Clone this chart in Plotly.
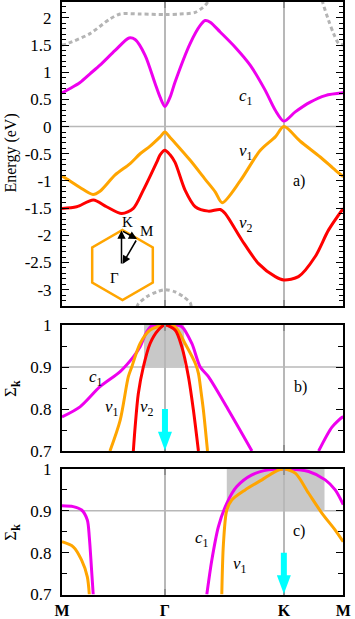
import numpy as np
import plotly.graph_objects as go

W, H = 355, 619
FONT = "'Liberation Serif', 'DejaVu Serif', serif"

# ---- high-symmetry path (M - Gamma - K - M) ----
GAMMA = 1 / np.sqrt(3)
KPT = GAMMA + 2 / 3
MEND = KPT + 1 / 3
tick_vals = [0, GAMMA, KPT, MEND]
tick_text = ["<b>M</b>", "<b>Γ</b>", "<b>K</b>", "<b>M</b>"]

# ---- panel a: band energies (eV) ----
c1_a_k = [0, 0.045, 0.101, 0.157, 0.213, 0.298, 0.376, 0.410, 0.466, 0.522, 0.550, 0.577, 0.606, 0.634,
          0.719, 0.775, 0.803, 0.831, 0.887, 0.971, 1.055, 1.139, 1.196, 1.244, 1.308, 1.392, 1.476, 1.577]
c1_a_E = [0.62, 0.70, 0.81, 0.97, 1.13, 1.40, 1.63, 1.60, 1.31, 0.79, 0.54, 0.37, 0.54, 0.82,
          1.53, 1.86, 1.95, 1.92, 1.74, 1.46, 1.13, 0.67, 0.30, 0.10, 0.27, 0.45, 0.57, 0.62]

v1_a_k = [0, 0.045, 0.101, 0.174, 0.213, 0.298, 0.382, 0.438, 0.494, 0.550, 0.577, 0.606, 0.634,
          0.719, 0.803, 0.859, 0.898, 0.999, 1.111, 1.196, 1.244, 1.336, 1.448, 1.532, 1.577]
v1_a_E = [-0.91, -1.00, -1.12, -1.25, -1.19, -0.89, -0.68, -0.50, -0.36, -0.19, -0.10, -0.20, -0.30,
          -0.62, -0.97, -1.20, -1.40, -1.00, -0.44, -0.19, 0.00, -0.27, -0.56, -0.80, -0.92]

v2_a_k = [0, 0.082, 0.176, 0.250, 0.335, 0.400, 0.456, 0.532, 0.550, 0.577, 0.606, 0.634, 0.690,
          0.747, 0.821, 0.887, 0.915, 1.009, 1.102, 1.196, 1.244, 1.326, 1.420, 1.495, 1.577]
v2_a_E = [-1.505, -1.475, -1.35, -1.475, -1.60, -1.505, -1.17, -0.65, -0.52, -0.435, -0.52, -0.66, -1.17,
          -1.475, -1.555, -1.525, -1.60, -2.09, -2.52, -2.76, -2.82, -2.76, -2.39, -1.90, -1.505]

up_k = [0, 0.026, 0.157, 0.269, 0.326, 0.438, 0.577, 0.662, 0.747, 0.803, 0.821, 0.830, None,
        1.452, 1.459, 1.495, 1.523, 1.551, 1.577]
up_E = [1.50, 1.52, 1.71, 1.98, 2.07, 2.07, 2.06, 2.07, 2.10, 2.23, 2.32, 2.45, None,
        2.45, 2.32, 1.95, 1.71, 1.53, 1.50]

low_k = [0.420, 0.428, 0.475, 0.532, 0.577, 0.634, 0.681, 0.719, 0.725]
low_E = [-3.32, -3.26, -3.13, -3.04, -3.00, -3.04, -3.13, -3.24, -3.32]

# ---- panel b: Sigma_k ----
c1_b_k = [0, 0.101, 0.213, 0.326, 0.400, 0.438, 0.475, 0.503, 0.577, 0.634, 0.672, 0.728, 0.775, 0.821,
          0.934, 1.065, None, 1.439, 1.514, 1.570, 1.577]
c1_b_S = [0.781, 0.805, 0.853, 0.889, 0.924, 0.948, 0.984, 0.998, 1.0, 1.0, 0.996, 0.956, 0.90, 0.877,
          0.797, 0.70, None, 0.70, 0.757, 0.780, 0.781]
v1_b_k = [0.269, 0.326, 0.372, 0.391, 0.438, 0.494, 0.577, 0.634, 0.690, 0.747, 0.765, 0.780, 0.793, 0.816]
v1_b_S = [0.70, 0.773, 0.877, 0.90, 0.956, 0.988, 1.0, 0.996, 0.956, 0.909, 0.885, 0.84, 0.797, 0.70]
v2_b_k = [0.400, 0.410, 0.428, 0.456, 0.494, 0.540, 0.577, 0.634, 0.672, 0.709, 0.737, 0.765]
v2_b_S = [0.70, 0.757, 0.837, 0.90, 0.956, 0.988, 1.0, 0.988, 0.948, 0.877, 0.797, 0.70]

# ---- panel c: Sigma_k ----
c1_c_k = [0, 0.063, 0.110, 0.142, 0.153, 0.166, 0.175, None,
          0.812, 0.840, 0.877, 0.924, 0.980, 1.065, 1.158, 1.244, 1.383, 1.476, 1.532, 1.577]
c1_c_S = [0.912, 0.91, 0.902, 0.878, 0.838, 0.758, 0.70, None,
          0.70, 0.782, 0.862, 0.918, 0.958, 0.986, 0.998, 1.0, 0.994, 0.974, 0.95, 0.915]
v1_c_k = [0, 0.063, 0.110, 0.142, 0.153, None,
          0.896, 0.905, 0.924, 0.952, 1.027, 1.121, 1.196, 1.244, 1.308, 1.383, 1.458, 1.532, 1.577]
v1_c_S = [0.826, 0.814, 0.782, 0.742, 0.70, None,
          0.70, 0.82, 0.902, 0.926, 0.95, 0.974, 0.994, 1.0, 0.99, 0.942, 0.894, 0.854, 0.826]

shade_b = [0.460, 0.685]
shade_c = [0.924, 1.472]
arrow_top, arrow_neck = 0.80, 0.746

MAG, ORA, RED, GRAYD, CYAN = "#ee00ee", "#ffa500", "#ff0000", "#b4b4b4", "#00ffff"
GRID = "#b8b8b8"

fig = go.Figure()


def add(k, v, color, xa, ya, dash=None, width=3):
    fig.add_trace(go.Scatter(x=k, y=v, mode="lines", xaxis=xa, yaxis=ya,
                             line=dict(color=color, width=width, shape="spline", smoothing=0.8, dash=dash),
                             hoverinfo="skip", showlegend=False, connectgaps=False))


add(up_k, up_E, GRAYD, "x", "y", dash="4px,3px")
add(low_k, low_E, GRAYD, "x", "y", dash="4px,3px")
add(c1_a_k, c1_a_E, MAG, "x", "y")
add(v1_a_k, v1_a_E, ORA, "x", "y")
add(v2_a_k, v2_a_E, RED, "x", "y")

add(c1_b_k, c1_b_S, MAG, "x2", "y2")
add(v1_b_k, v1_b_S, ORA, "x2", "y2")
add(v2_b_k, v2_b_S, RED, "x2", "y2")

add(c1_c_k, c1_c_S, MAG, "x3", "y3")
add(v1_c_k, v1_c_S, ORA, "x3", "y3")


def py(y):
    return 1 - y / H


XDOM = [62 / W, 343.3 / W]
axis_common = dict(showline=True, linecolor="black", linewidth=2, mirror="allticks",
                   zeroline=False, automargin=False)
xcommon = dict(axis_common, range=[0, MEND], tickvals=tick_vals, ticktext=tick_text,
               showgrid=True, gridcolor=GRID, gridwidth=1.5, ticks="inside", ticklen=6,
               tickcolor="#909090", tickwidth=1.5, domain=XDOM,
               tickfont=dict(family=FONT, size=16, color="black"))
ycommon = dict(axis_common, ticks="inside", ticklen=7, tickwidth=1.2, tickcolor="black",
               showgrid=False, ticklabelstandoff=5,
               tickfont=dict(family=FONT, size=17, color="black"))

fig.update_layout(
    template="none",
    width=W, height=H, margin=dict(l=0, r=0, t=0, b=0, autoexpand=False),
    paper_bgcolor="white", plot_bgcolor="white",
    font=dict(family=FONT, size=17, color="black"),
    xaxis=dict(xcommon, anchor="y", showticklabels=False),
    xaxis2=dict(xcommon, anchor="y2", showticklabels=False),
    xaxis3=dict(xcommon, anchor="y3", showticklabels=True, ticklabelstandoff=0),
    yaxis=dict(ycommon, domain=[py(306), py(1.5)], range=[-3.3, 2.3], anchor="x",
               tickvals=[-3, -2.5, -2, -1.5, -1, -0.5, 0, 0.5, 1, 1.5, 2],
               ticktext=["-3", "-2.5", "-2", "-1.5", "-1", "-0.5", "0", "0.5", "1", "1.5", "2"],
               minor=dict(ticks="inside", ticklen=4, dtick=0.1, tick0=0, tickcolor="black", tickwidth=1)),
    yaxis2=dict(ycommon, domain=[py(451), py(325)], range=[0.7, 1.0], anchor="x2",
                tickvals=[0.7, 0.8, 0.9, 1.0], ticktext=["0.7", "0.8", "0.9", "1"],
                minor=dict(ticks="inside", ticklen=5, dtick=0.05, tick0=0, tickcolor="black", tickwidth=1)),
    yaxis3=dict(ycommon, domain=[py(594.5), py(469)], range=[0.7, 1.0], anchor="x3",
                tickvals=[0.7, 0.8, 0.9, 1.0], ticktext=["0.7", "0.8", "0.9", "1"],
                minor=dict(ticks="inside", ticklen=5, dtick=0.05, tick0=0, tickcolor="black", tickwidth=1)),
)

shapes = []
# horizontal reference lines
for xr, yr, yv in [("x", "y", 0.0), ("x2", "y2", 0.9), ("x3", "y3", 0.9)]:
    shapes.append(dict(type="line", xref=xr + " domain", yref=yr, x0=0, x1=1, y0=yv, y1=yv,
                       line=dict(color=GRID, width=1.5), layer="below"))
# shaded regions
for xr, yr, sh in [("x2", "y2", shade_b), ("x3", "y3", shade_c)]:
    shapes.append(dict(type="rect", xref=xr, yref=yr, x0=sh[0], x1=sh[1], y0=0.9, y1=1.0,
                       fillcolor="#c8c8c8", line=dict(width=0), layer="below"))
# cyan arrows
for xr, yr, xa in [("x2", "y2", GAMMA), ("x3", "y3", KPT)]:
    shapes.append(dict(type="rect", xref=xr, yref=yr, xsizemode="pixel", xanchor=xa,
                       x0=-3, x1=3, y0=arrow_neck - 0.002, y1=arrow_top,
                       fillcolor=CYAN, line=dict(width=0)))
    shapes.append(dict(type="path", xref=xr, yref=yr, xsizemode="pixel", xanchor=xa,
                       path=f"M -7,{arrow_neck} L 7,{arrow_neck} L 0,0.701 Z",
                       fillcolor=CYAN, line=dict(width=0)))

# Brillouin-zone inset (hexagon) in pixel geometry
cx, cy, R = 122.5, 265.0, 35.0
hw = R * np.cos(np.pi / 6)
hexpts = [(cx, cy - R), (cx + hw, cy - R / 2), (cx + hw, cy + R / 2), (cx, cy + R),
          (cx - hw, cy + R / 2), (cx - hw, cy - R / 2)]
path = "M " + " L ".join(f"{x / W:.5f},{py(y):.5f}" for x, y in hexpts) + " Z"
shapes.append(dict(type="path", xref="paper", yref="paper", path=path,
                   line=dict(color=ORA, width=2.5)))
fig.update_layout(shapes=shapes)

ann = []


def txt(x, y, s, size=17, **kw):
    ann.append(dict(x=x / W, y=py(y), xref="paper", yref="paper", text=s, showarrow=False,
                    font=dict(family=FONT, size=size, color="black"), xanchor="center", yanchor="middle", **kw))


txt(10, 153.5, "Energy (eV)", size=16, textangle=-90)
txt(12, 388, "Σ<sub><b>k</b></sub>", size=17, textangle=-90)
txt(12, 531.7, "Σ<sub><b>k</b></sub>", size=17, textangle=-90)
txt(299, 181, "a)", size=16)
txt(300, 387, "b)", size=16)
txt(299, 531, "c)", size=16)
txt(246, 97, "<i>c</i><sub>1</sub>")
txt(246, 152, "<i>v</i><sub>1</sub>")
txt(246, 224, "<i>v</i><sub>2</sub>")
txt(96, 378, "<i>c</i><sub>1</sub>")
txt(112, 408, "<i>v</i><sub>1</sub>")
txt(147, 408, "<i>v</i><sub>2</sub>")
txt(202, 539, "<i>c</i><sub>1</sub>")
txt(240, 565, "<i>v</i><sub>1</sub>")
txt(127, 222, "K", size=15)
txt(146, 231, "M", size=15)
txt(114, 278, "Γ", size=15)

# inset arrows: Gamma->K, K->M, M->Gamma
Gp = (121.5, 265.0)
Kp = (121.5, 230.5)
Mp = (137.0, 239.0)
for tail, head in [(Gp, Kp), (Kp, Mp), (Mp, (122.5, 264.0))]:
    ann.append(dict(x=head[0] / W, y=py(head[1]), xref="paper", yref="paper", text="",
                    showarrow=True, ax=tail[0] - head[0], ay=tail[1] - head[1],
                    arrowhead=2, arrowsize=1.1, arrowwidth=1.5, arrowcolor="black", standoff=0))
fig.update_layout(annotations=ann)

fig.write_html("out.html")
